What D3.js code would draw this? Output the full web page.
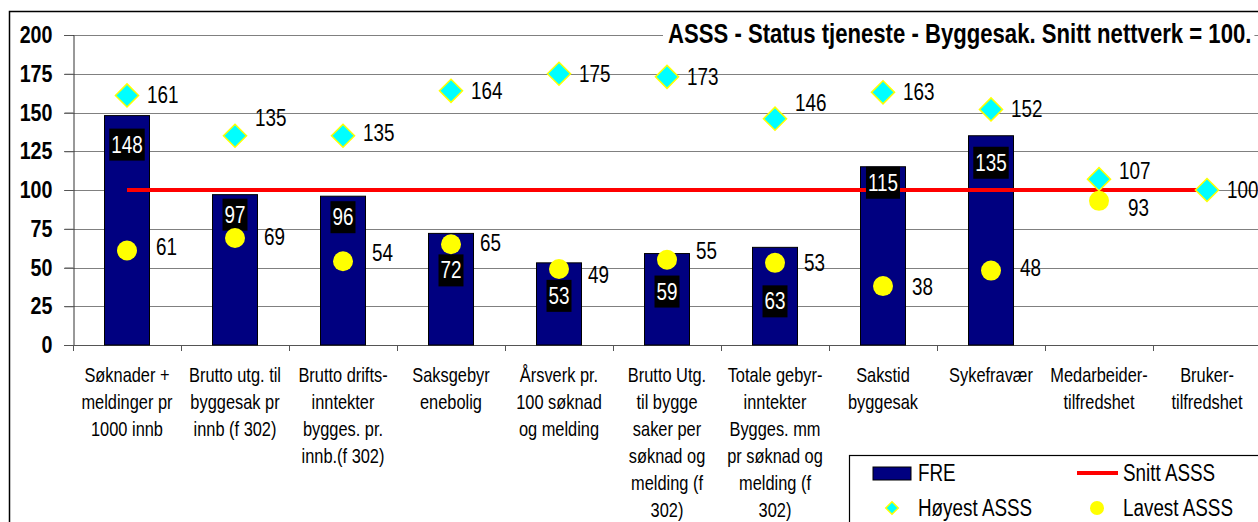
<!DOCTYPE html>
<html>
<head>
<meta charset="utf-8">
<script src="https://cdn.jsdelivr.net/npm/d3@7"></script>
<style>
  body { margin: 0; background: #fff; }
  svg { display: block; font-family: "Liberation Sans Narrow", "Arial Narrow", "Liberation Sans", Arial, sans-serif; }
</style>
</head>
<body>
<div id="chart"></div>
<script>
'use strict';

// categories, one entry per line of the axis label
const categories = [
  ["Søknader +", "meldinger pr", "1000 innb"],
  ["Brutto utg. til", "byggesak pr", "innb (f 302)"],
  ["Brutto drifts-", "inntekter", "bygges. pr.", "innb.(f 302)"],
  ["Saksgebyr", "enebolig"],
  ["Årsverk pr.", "100 søknad", "og melding"],
  ["Brutto Utg.", "til bygge", "saker per", "søknad og", "melding (f", "302)"],
  ["Totale gebyr-", "inntekter", "Bygges. mm", "pr søknad og", "melding (f", "302)"],
  ["Sakstid", "byggesak"],
  ["Sykefravær"],
  ["Medarbeider-", "tilfredshet"],
  ["Bruker-", "tilfredshet"]
];

const freValues    = [148, 97, 96, 72, 53, 59, 63, 115, 135, null, null];
const snittValues  = [100, 100, 100, 100, 100, 100, 100, 100, 100, 100, 100];
const hoyestValues = [161, 135, 135, 164, 175, 173, 146, 163, 152, 107, 100];
const lavestValues = [61, 69, 54, 65, 49, 55, 53, 38, 48, 93, null];
const yTicks = [0, 25, 50, 75, 100, 125, 150, 175, 200];

// hand placed label nudges (pixels), like the dragged labels in the original
const freLabelDy = [29, 20, 21, 37, 33, 38, 54, 16, 27, 0, 0];
const hoyLabelDy = [0, -18, -3, 0, 0, 0, -16, 0, 0, -8, 0];
const lavLabelDy = [-3, -1, -8, -1, 6, -9, 0, 1, -3, 7, 0];

const W = 1258, H = 522;
const margin = {left: 73, top: 35, bottom: 345};
const band = 108;
const NARROW = 0.82;   // no narrow font installed, so squeeze the glyphs

// squeeze text horizontally around its x (stand-in for Arial Narrow)
function narrow(sel) {
  sel.each(function() {
    let ax = this.getAttribute("x");
    if (ax == null) {
      const ts = this.querySelector("tspan");
      ax = ts ? ts.getAttribute("x") : 0;
    }
    ax = +ax || 0;
    d3.select(this).attr("transform",
      "translate(" + ax + ",0) scale(" + NARROW + ",1) translate(" + (-ax) + ",0)");
  });
}

const svg = d3.select("#chart").append("svg")
  .attr("width", W)
  .attr("height", H);

// outer frame
svg.append("rect")
  .attr("x", 9.5).attr("y", 11.5)
  .attr("width", 1300).attr("height", 600)
  .attr("fill", "#fff").attr("stroke", "#000").attr("stroke-width", 1.5);

const idx = d3.range(categories.length);

const x = d3.scaleBand()
  .domain(idx)
  .range([margin.left, margin.left + band * categories.length]);

const y = d3.scaleLinear()
  .domain([0, 200])
  .range([margin.bottom, margin.top]);

const cx = i => x(i) + x.bandwidth() / 2;

// gridlines
svg.append("g")
  .selectAll("line")
  .data(yTicks.filter(t => t > 0))
  .join("line")
    .attr("x1", margin.left - 9)
    .attr("x2", x.range()[1])
    .attr("y1", d => Math.round(y(d)) + 0.5)
    .attr("y2", d => Math.round(y(d)) + 0.5)
    .attr("stroke", "#808080")
    .attr("stroke-width", 1.2);

// y axis
const yAxis = svg.append("g")
  .attr("transform", "translate(" + (margin.left + 0.5) + ",0)")
  .call(d3.axisLeft(y).tickValues(yTicks).tickSize(9).tickPadding(12));
yAxis.select(".domain").attr("stroke", "#333");
yAxis.selectAll(".tick line").attr("stroke", "#555");
yAxis.selectAll("text")
  .attr("font-family", null)
  .attr("font-size", 24)
  .attr("font-weight", "bold")
  .attr("fill", "#000")
  .call(narrow);

// x axis line and ticks at category borders
const xAxis = svg.append("g");
xAxis.append("line")
  .attr("x1", margin.left - 9).attr("x2", x.range()[1])
  .attr("y1", margin.bottom + 0.5).attr("y2", margin.bottom + 0.5)
  .attr("stroke", "#555").attr("stroke-width", 1.2);
xAxis.selectAll("line.tk")
  .data(idx)
  .join("line")
    .attr("class", "tk")
    .attr("x1", d => Math.round(x(d)) + 0.5)
    .attr("x2", d => Math.round(x(d)) + 0.5)
    .attr("y1", margin.bottom)
    .attr("y2", margin.bottom + 6)
    .attr("stroke", "#555");

// category labels
const catLabels = svg.append("g")
  .selectAll("text")
  .data(categories)
  .join("text")
    .attr("text-anchor", "middle")
    .attr("font-size", 20)
    .attr("fill", "#000");
catLabels.each(function(lines, i) {
  d3.select(this).selectAll("tspan")
    .data(lines)
    .join("tspan")
      .attr("x", cx(i))
      .attr("y", (d, k) => 382 + k * 27)
      .text(d => d);
});
catLabels.call(narrow);

// bars
const barW = 45;
svg.append("g")
  .selectAll("rect")
  .data(idx.filter(i => freValues[i] != null))
  .join("rect")
    .attr("x", i => cx(i) - barW / 2)
    .attr("y", i => y(freValues[i]))
    .attr("width", barW)
    .attr("height", i => y(0) - y(freValues[i]))
    .attr("fill", "#000080")
    .attr("stroke", "#000")
    .attr("stroke-width", 1);

// average line
const line = d3.line()
  .x(i => cx(i))
  .y(i => y(snittValues[i]));
svg.append("path")
  .datum(idx)
  .attr("d", line)
  .attr("fill", "none")
  .attr("stroke", "#ff0000")
  .attr("stroke-width", 4);

// bar value labels: white on black
const freLab = svg.append("g")
  .selectAll("g")
  .data(idx.filter(i => freValues[i] != null))
  .join("g")
    .attr("transform", i => "translate(" + cx(i) + "," + (y(freValues[i]) + freLabelDy[i]) + ")");
freLab.append("rect")
  .attr("fill", "#000");
freLab.append("text")
  .attr("x", 0)
  .attr("text-anchor", "middle")
  .attr("dy", "0.35em")
  .attr("font-size", 23)
  .attr("fill", "#fff")
  .text(i => freValues[i])
  .call(narrow);
freLab.each(function() {
  const w = d3.select(this).select("text").node().getComputedTextLength() * NARROW;
  d3.select(this).select("rect")
    .attr("x", -w / 2 - 2)
    .attr("y", -16)
    .attr("width", w + 4)
    .attr("height", 32);
});

// highest markers
const diamond = d3.symbol().type(d3.symbolDiamond2).size(340);
svg.append("g")
  .selectAll("path")
  .data(idx.filter(i => hoyestValues[i] != null))
  .join("path")
    .attr("d", diamond)
    .attr("transform", i => "translate(" + cx(i) + "," + y(hoyestValues[i]) + ")")
    .attr("fill", "#00ffff")
    .attr("stroke", "#ffff00")
    .attr("stroke-width", 1.5);

// lowest markers
svg.append("g")
  .selectAll("circle")
  .data(idx.filter(i => lavestValues[i] != null))
  .join("circle")
    .attr("cx", i => cx(i))
    .attr("cy", i => y(lavestValues[i]))
    .attr("r", 10)
    .attr("fill", "#ffff00");

// marker labels
svg.append("g")
  .selectAll("text")
  .data(idx.filter(i => hoyestValues[i] != null))
  .join("text")
    .attr("x", i => cx(i) + 20)
    .attr("y", i => y(hoyestValues[i]) + hoyLabelDy[i])
    .attr("dy", "0.35em")
    .attr("font-size", 23)
    .text(i => hoyestValues[i])
    .call(narrow);

svg.append("g")
  .selectAll("text")
  .data(idx.filter(i => lavestValues[i] != null))
  .join("text")
    .attr("x", i => cx(i) + 29)
    .attr("y", i => y(lavestValues[i]) + lavLabelDy[i])
    .attr("dy", "0.35em")
    .attr("font-size", 23)
    .text(i => lavestValues[i])
    .call(narrow);

// title with white background
const title = svg.append("g");
const titleText = title.append("text")
  .attr("x", 668)
  .attr("y", 34)
  .attr("dy", "0.35em")
  .attr("font-size", 27)
  .attr("font-weight", "bold")
  .text("ASSS - Status tjeneste - Byggesak. Snitt nettverk = 100.")
  .call(narrow);
const tw = titleText.node().getComputedTextLength() * NARROW;
title.insert("rect", "text")
  .attr("x", 663).attr("y", 20)
  .attr("width", tw + 8).attr("height", 30)
  .attr("fill", "#fff");

// legend
const legend = svg.append("g");
legend.append("rect")
  .attr("x", 849.5).attr("y", 455.5)
  .attr("width", 450).attr("height", 100)
  .attr("fill", "#fff").attr("stroke", "#000").attr("stroke-width", 1.2);
legend.append("rect")
  .attr("x", 873).attr("y", 467).attr("width", 38).attr("height", 13)
  .attr("fill", "#000080").attr("stroke", "#000");
legend.append("line")
  .attr("x1", 1077).attr("x2", 1118).attr("y1", 473).attr("y2", 473)
  .attr("stroke", "#ff0000").attr("stroke-width", 4);
legend.append("path")
  .attr("d", d3.symbol().type(d3.symbolDiamond2).size(100))
  .attr("transform", "translate(892,508)")
  .attr("fill", "#00ffff").attr("stroke", "#ffff00").attr("stroke-width", 1.5);
legend.append("circle")
  .attr("cx", 1097).attr("cy", 508).attr("r", 7)
  .attr("fill", "#ffff00");
const legItems = [
  {t: "FRE", x: 918, y: 473},
  {t: "Snitt ASSS", x: 1123, y: 473},
  {t: "Høyest ASSS", x: 918, y: 508},
  {t: "Lavest ASSS", x: 1123, y: 508}
];
legend.selectAll("text.lg")
  .data(legItems)
  .join("text")
    .attr("class", "lg")
    .attr("x", d => d.x)
    .attr("y", d => d.y)
    .attr("dy", "0.35em")
    .attr("font-size", 23)
    .text(d => d.t)
    .call(narrow);
</script>
</body>
</html>
